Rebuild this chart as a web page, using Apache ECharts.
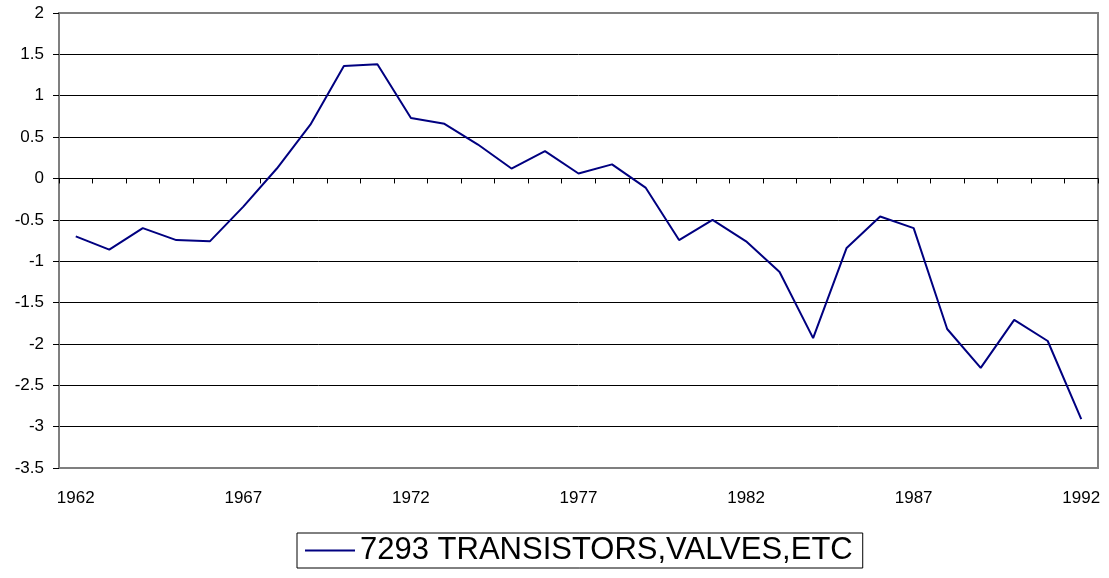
<!DOCTYPE html>
<html>
<head>
<meta charset="utf-8">
<script src="https://cdn.jsdelivr.net/npm/echarts@6/dist/echarts.min.js"></script>
<style>
html,body{margin:0;padding:0;background:#fff;}
#chart{width:1109px;height:578px;}
</style>
</head>
<body>
<div id="chart"></div>
<script>
const years = ['1962','1963','1964','1965','1966','1967','1968','1969','1970','1971','1972','1973','1974','1975','1976','1977','1978','1979','1980','1981','1982','1983','1984','1985','1986','1987','1988','1989','1990','1991','1992'];
const seriesName = '7293 TRANSISTORS,VALVES,ETC';
const values = [-0.70,-0.86,-0.60,-0.745,-0.76,-0.34,0.12,0.65,1.36,1.38,0.73,0.66,0.41,0.12,0.33,0.06,0.17,-0.11,-0.745,-0.50,-0.76,-1.13,-1.93,-0.84,-0.46,-0.60,-1.82,-2.29,-1.71,-1.965,-2.91];
const yMin = -3.5, yMax = 2, yStep = 0.5;

const chart = echarts.init(document.getElementById('chart'), null, {renderer:'canvas'});
chart.setOption({
  animation:false,
  backgroundColor:'#fff',
  textStyle:{fontFamily:'Liberation Sans, Arial, sans-serif'},
  grid:{left:59,top:13,right:11,bottom:110,show:true,borderColor:'#7f7f7f',borderWidth:2,backgroundColor:'transparent'},
  legend:{
    data:[seriesName],
    left:297, top:533,
    icon:'rect', itemWidth:50, itemHeight:2, itemGap:6,
    borderColor:'#000', borderWidth:1, padding:[2,10,2,8],
    textStyle:{fontSize:31,color:'#000',fontFamily:'Liberation Sans, Arial, sans-serif'}
  },
  xAxis:[
    {type:'category',data:years,position:'bottom',boundaryGap:true,
     axisLine:{show:false,onZero:false},axisTick:{show:false},
     axisLabel:{interval:4,margin:22,fontSize:17,color:'#000'},splitLine:{show:false}},
    {type:'category',data:years,position:'top',boundaryGap:true,
     axisLine:{show:true,onZero:true,lineStyle:{color:'#000',width:1}},
     axisTick:{show:true,inside:true,interval:0,length:5,lineStyle:{color:'#000'}},
     axisLabel:{show:false},splitLine:{show:false}}
  ],
  yAxis:{type:'value',min:yMin,max:yMax,interval:yStep,
    axisLine:{show:true,lineStyle:{color:'#7f7f7f',width:2}},
    axisTick:{show:true,length:6,lineStyle:{color:'#000'}},
    axisLabel:{margin:15,fontSize:17,color:'#000'},
    splitLine:{show:true,showMinLine:false,showMaxLine:false,lineStyle:{color:'#000',width:1}}},
  series:[{name:seriesName,type:'line',xAxisIndex:0,data:values,symbol:'none',
    lineStyle:{color:'#000080',width:2},itemStyle:{color:'#000080'}}]
});
</script>
</body>
</html>
